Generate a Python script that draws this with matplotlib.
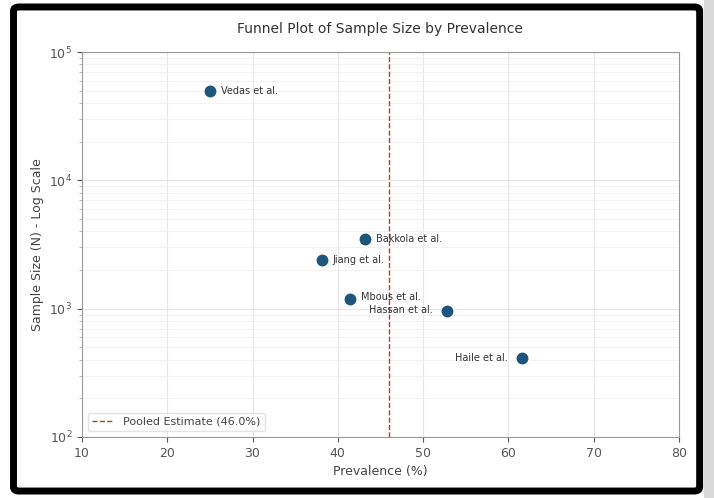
import matplotlib.pyplot as plt
from matplotlib.patches import FancyBboxPatch, Rectangle

studies = ['Vedas et al.', 'Bakkola et al.', 'Jiang et al.', 'Mbous et al.', 'Hassan et al.', 'Haile et al.']
prevalence = [25.0, 43.2, 38.1, 41.4, 52.8, 61.6]
sample_size = [50000, 3500, 2400, 1180, 960, 415]
pooled = 46.0

# label offsets in points (dx, dy) and alignment per study
offsets = [(8, 0), (8, 0), (8, 0), (8, 2), (-10, 1), (-10, 0)]
aligns = ['left', 'left', 'left', 'left', 'right', 'right']

plt.rcParams['font.family'] = ['DejaVu Sans']

fig = plt.figure(figsize=(7.14, 4.98), dpi=100)
ax = fig.add_axes([0.1148, 0.1225, 0.836, 0.773])

ax.scatter(prevalence, sample_size, s=95, color='#1d557c', edgecolor='white',
           linewidth=1.2, zorder=3)

for name, x, y, off, ha in zip(studies, prevalence, sample_size, offsets, aligns):
    ax.annotate(name, (x, y), xytext=off, textcoords='offset points',
                ha=ha, va='center', fontsize=7, color='#333333', zorder=4)

ax.axvline(pooled, color='#c0392b', linestyle='--', linewidth=1.0,
           label='Pooled Estimate (%.1f%%)' % pooled, zorder=2)

ax.set_yscale('log')
ax.set_xlim(10, 80)
ax.set_ylim(100, 100000)

ax.grid(True, which='major', color='#e6e6e6', linewidth=0.8)
ax.grid(True, which='minor', axis='y', color='#f0f0f0', linewidth=0.6)
ax.set_axisbelow(True)

for s in ax.spines.values():
    s.set_color('#999999')
ax.tick_params(colors='#555555', labelsize=9)
ax.tick_params(which='minor', colors='#aaaaaa')

ax.set_xlabel('Prevalence (%)', fontsize=9, color='#444444')
ax.set_ylabel('Sample Size (N) - Log Scale', fontsize=9, color='#444444')
ax.set_title('Funnel Plot of Sample Size by Prevalence', fontsize=10, color='#333333', pad=14)

ax.legend(loc='lower left', fontsize=8, frameon=True, edgecolor='#dddddd',
          labelcolor='#444444')

# light shadow strip on the right, then the dark frame
fig.patches.append(Rectangle((0.986, 0.0), 0.014, 1.0, transform=fig.transFigure,
                             facecolor='#d8d8d8', edgecolor='none', zorder=1))
frame = FancyBboxPatch((0.0189, 0.014), 0.961, 0.972, boxstyle='round,pad=0,rounding_size=0.008',
                       transform=fig.transFigure, fill=False, edgecolor='black',
                       linewidth=5, zorder=10)
fig.patches.append(frame)

plt.savefig('out.png', dpi=100)
